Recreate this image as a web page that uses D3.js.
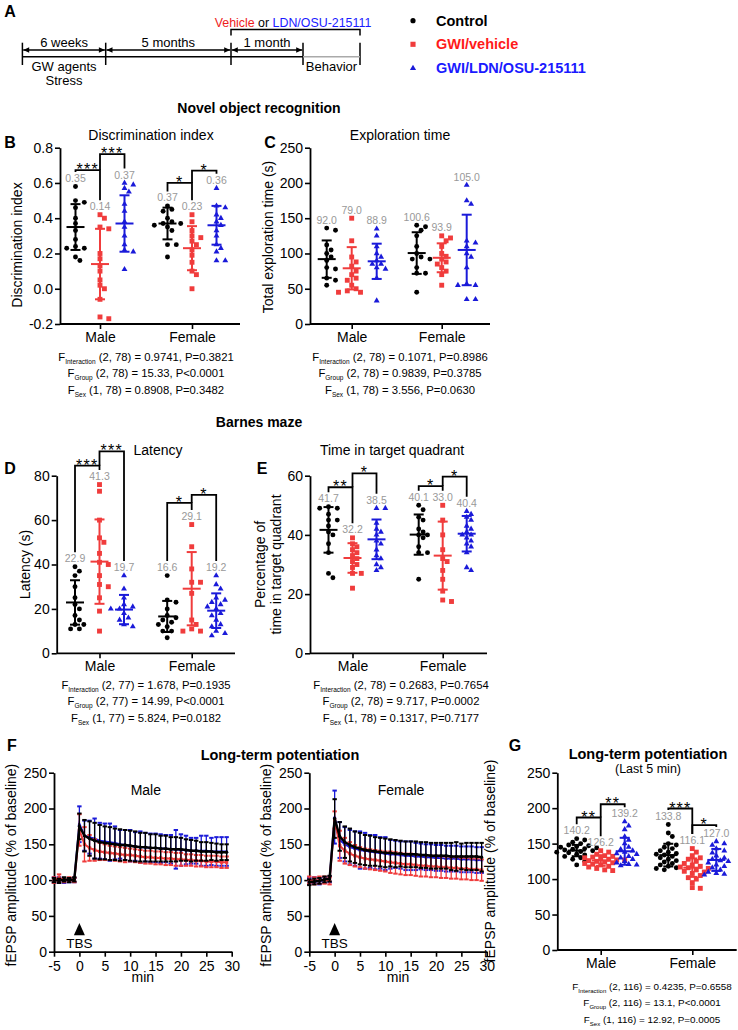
<!DOCTYPE html>
<html><head><meta charset="utf-8">
<script src="https://cdn.jsdelivr.net/npm/d3@7"></script>
<style>
body{margin:0;background:#fff}
svg{display:block}
text{font-family:"Liberation Sans",Arial,Helvetica,sans-serif}
</style>
</head><body>
<svg id="fig" width="738" height="1030"></svg>
<script>
// ================= DATA =================
const sexes = ["Male", "Female"];
const groups = ["Control", "GWI/vehicle", "GWI/LDN/OSU-215111"];

// B: Discrimination index
const discMale = [
  [0.58,0.50,0.49,0.46,0.40,0.37,0.33,0.28,0.24,0.23,0.23,0.18,0.16],
  [0.42,0.40,0.35,0.34,0.20,0.17,0.13,0.10,0.05,0.02,0.00,-0.06,-0.16,-0.17],
  [0.60,0.59,0.57,0.55,0.48,0.44,0.38,0.35,0.30,0.25,0.22,0.21,0.11]];
const discFemale = [
  [0.47,0.45,0.44,0.40,0.38,0.37,0.37,0.36,0.35,0.33,0.25,0.25,0.18],
  [0.42,0.38,0.33,0.30,0.29,0.27,0.25,0.22,0.19,0.15,0.10,0.08,0.00],
  [0.57,0.47,0.46,0.42,0.40,0.38,0.36,0.33,0.30,0.25,0.23,0.21,0.16,0.16]];
const discMeans = [[0.35,0.14,0.37],[0.37,0.23,0.36]];
const discSD = [[0.13,0.20,0.16],[0.09,0.125,0.11]];
const discTicks = [-0.2,0,0.2,0.4,0.6,0.8];
const discSig = [["***","***"],["*","*"]];

// C: Exploration time
const explMale = [
  [136,133,112,105,100,95,90,80,78,65,62,55],
  [150,118,95,88,82,75,70,65,62,55,50,47,45,45],
  [135,125,110,100,95,90,85,85,80,78,65,33]];
const explFemale = [
  [140,138,133,125,110,100,95,92,92,80,72,72,45],
  [125,122,118,110,100,96,92,88,85,80,75,70,55],
  [197,175,170,118,115,110,100,95,80,57,55,55,35,35]];
const explMeans = [[92.0,79.0,88.9],[100.6,93.9,105.0]];
const explSD = [[26.5,30,25],[29.5,20.5,50]];
const explTicks = [0,50,100,150,200,250];

// D: Latency
const latMale = [
  [39,37,35,30,25,22,20,17,15,13,13,11,11],
  [76,73,60,52,50,45,41,40,35,31,30,25,19,10],
  [35,29,25,22,21,20,20,18,16,15,13,12]];
const latFemale = [
  [35,24,23,20,17,16,15,14,13,12,10,10,7],
  [58,48,38,32,32,27,15,13,11,10,10],
  [35,31,29,25,24,23,22,21,20,18,17,15,13,12,10,9,8]];
const latMeans = [[22.9,41.3,19.7],[16.6,29.1,19.2]];
const latSD = [[10,19,6.6],[7,16.5,7.8]];
const latTicks = [0,20,40,60,80];
const latSig = [["***","***"],["*","*"]];

// E: Time in target quadrant
const tqMale = [
  [49.5,49,49,47,45,45,43,41,40,37,34,27,25.5],
  [39,37,36,35,34,33,32,31,30,29,27,27,22],
  [49,49,44,42,41,40,38,37,35,33,32,30,29,28]];
const tqFemale = [
  [50,48.5,46,45,42,41,40,40,39,36,34,34,25],
  [50,45,40,35,32,31,28,25,21,18,17.5],
  [48,47,46,45,43,42,41,40,40,39,38,37,36,34,29,28]];
const tqMeans = [[41.7,32.2,38.5],[40.1,33.0,40.4]];
const tqSD = [[7.7,5,6.7],[6.8,11.5,6]];
const tqTicks = [0,20,40,60];
const tqSig = [["**","*"],["*","*"]];

// F: LTP time course
const ltpTime = [-5,-4,-3,-2,-1,0,1,2,3,4,5,6,7,8,9,10,11,12,13,14,15,16,17,18,19,20,21,22,23,24,25,26,27,28,29];
const ltpMaleCtrl = [100,99,101,100,101,175,162,158,155,153,152,151,150,149,149,148,147,146,146,145,145,144,144,143,143,143,142,141,141,140,140,140,139,139,139];
const ltpMaleCtrlErr = [3,3,3,3,3,18,22,24,25,24,23,23,22,22,21,21,21,20,20,19,19,18,18,17,17,16,15,15,14,13,13,12,12,11,11];
const ltpMaleVeh = [100,103,100,101,100,170,150,145,142,140,139,138,137,136,135,135,134,133,132,132,131,131,130,130,129,129,128,128,127,127,126,126,126,125,125];
const ltpMaleVehErr = [4,5,3,3,3,22,24,18,15,12,11,10,10,10,10,9,9,9,9,9,9,9,9,9,9,9,8,8,8,8,8,8,8,8,8];
const ltpMaleLdn = [100,100,99,100,100,178,162,160,158,155,154,153,152,150,149,148,147,146,146,145,145,144,144,143,143,142,142,141,141,141,141,140,140,140,140];
const ltpMaleLdnErr = [4,4,3,3,3,25,21,23,28,25,25,26,23,20,21,22,20,22,20,20,20,20,19,20,27,22,20,18,18,21,21,19,20,20,20];
const ltpFemCtrl = [97,98,99,101,102,186,161,153,149,146,144,142,141,140,139,138,138,137,137,136,136,136,135,135,134,134,134,134,133,133,133,133,133,133,132];
const ltpFemCtrlErr = [4,4,4,4,4,27,20,22,23,22,22,21,21,20,20,20,19,19,18,18,18,18,18,18,18,18,18,18,19,20,18,19,19,19,20];
const ltpFemVeh = [100,99,100,100,99,184,148,141,137,134,132,130,129,128,127,126,125,124,123,122,122,121,120,120,119,119,118,118,117,117,116,116,115,115,114];
const ltpFemVehErr = [5,5,5,5,5,12,21,18,16,15,14,14,14,14,14,14,15,15,15,15,15,15,15,15,15,15,15,15,15,15,15,15,15,15,15];
const ltpFemLdn = [99,100,98,100,101,188,156,150,146,144,142,141,140,139,138,137,136,136,135,134,134,133,133,132,132,131,131,130,130,130,129,129,129,128,128];
const ltpFemLdnErr = [4,4,4,4,4,37,25,24,24,24,26,25,23,24,22,23,20,19,19,20,20,19,18,18,18,18,18,18,18,18,18,18,18,18,18];
const ltpXTicks = [-5,0,5,10,15,20,25,30];
const ltpYTicks = [0,50,100,150,200,250];

// G: LTP last 5 min
const last5Male = [
  [157,155,152,150,148,147,146,145,144,143,142,141,140,139,138,137,135,134,132,130,128,125,120],
  [140,138,135,133,132,131,130,129,128,127,127,126,125,124,123,122,121,120,118,117,115,113,112],
  [181,175,170,160,155,150,145,142,140,138,136,135,132,130,128,125,123,121,120,119]];
const last5Female = [
  [177,165,160,150,148,145,143,140,138,136,135,134,132,130,128,126,124,122,120,118,116,115,113],
  [143,138,133,130,128,125,122,120,118,117,116,115,113,111,110,108,105,102,100,95,88,87],
  [153,150,148,143,140,137,133,130,128,126,125,123,120,118,116,113,110,108,107,106]];
const last5Means = [[140.2,126.2,139.2],[133.8,116.1,127.0]];
const last5SD = [[8,7.5,19],[16,13,15.5]];
const last5Ticks = [0,50,100,150,200,250];
const last5Sig = [["**","**"],["***","*"]];

// Two-way ANOVA statistics
const statsB = [["Interaction","(2, 78) = 0.9741, P=0.3821"],["Group","(2, 78) = 15.33, P<0.0001"],["Sex","(1, 78) = 0.8908, P=0.3482"]];
const statsC = [["Interaction","(2, 78) = 0.1071, P=0.8986"],["Group","(2, 78) = 0.9839, P=0.3785"],["Sex","(1, 78) = 3.556, P=0.0630"]];
const statsD = [["Interaction","(2, 77) = 1.678, P=0.1935"],["Group","(2, 77) = 14.99, P<0.0001"],["Sex","(1, 77) = 5.824, P=0.0182"]];
const statsE = [["Interaction","(2, 78) = 0.2683, P=0.7654"],["Group","(2, 78) = 9.717, P=0.0002"],["Sex","(1, 78) = 0.1317, P=0.7177"]];
const statsG = [["Interaction","(2, 116) = 0.4235, P=0.6558"],["Group","(2, 116) = 13.1, P<0.0001"],["Sex","(1, 116) = 12.92, P=0.0005"]];

// Timeline (panel A)
const timelineSpans = ["6 weeks","5 months","1 month"];

// ================= DRAWING =================
const colors = ["#000000", "#f03c3c", "#1a1ad9"];
const svg = d3.select("#fig");
const symTypes = [d3.symbolCircle, d3.symbolSquare, d3.symbolTriangle];
const symSizes = [19, 24, 15];

function marker(g, gi, x, y, k = 1) {
  g.append("path")
    .attr("d", d3.symbol().type(symTypes[gi]).size(symSizes[gi] * k)())
    .attr("transform", `translate(${x},${y})`)
    .attr("fill", colors[gi]);
}

function styleAxis(ag, fs = 14) {
  ag.select(".domain").attr("stroke", "#000").attr("stroke-width", 1.8);
  ag.selectAll(".tick line").attr("stroke", "#000").attr("stroke-width", 1.6);
  ag.selectAll(".tick text").attr("fill", "#000").attr("font-size", fs)
    .attr("font-family", '"Liberation Sans",Arial,sans-serif');
}

function txt(g, x, y, s, o = {}) {
  const t = g.append("text").attr("x", x).attr("y", y).text(s)
    .attr("font-size", o.fs || 14).attr("text-anchor", o.anchor || "middle")
    .attr("fill", o.fill || "#000");
  if (o.bold) t.attr("font-weight", "bold");
  if (o.rot) t.attr("transform", `rotate(-90,${x},${y})`).attr("dy", "0.35em");
  return t;
}

function stats(g, cx, y0, rows, fs = 11.3, sub = 6.5) {
  rows.forEach((r, i) => {
    const t = g.append("text").attr("x", cx).attr("y", y0 + i * 16.3)
      .attr("text-anchor", "middle").attr("font-size", fs);
    t.append("tspan").text("F");
    t.append("tspan").attr("font-size", sub).attr("dy", 3).text(r[0]);
    t.append("tspan").attr("dy", -3).text(" " + r[1]);
  });
}

function swarm(vals, y, cx, step = 4.4, minD = 5.2) {
  const placed = [];
  vals.slice().sort((a, b) => b - a).forEach(v => {
    const py = y(v);
    let px = null;
    for (let k = 0; k < 12; k++) {
      const off = k === 0 ? 0 : (k % 2 ? Math.ceil(k / 2) : -k / 2);
      const cand = cx + off * step;
      if (placed.every(q => Math.hypot(q.x - cand, q.y - py) >= minD)) { px = cand; break; }
    }
    if (px === null) px = cx;
    placed.push({x: px, y: py});
  });
  return placed;
}

function scatterPanel(p) {
  const g = svg.append("g");
  const y = d3.scaleLinear().domain(p.domain).range([p.yBottom, p.yTop]);
  const xs = d3.scalePoint().domain(sexes).range(p.centers);
  const xg = d3.scalePoint().domain([0, 1, 2]).range([-p.spread, p.spread]);

  const ay = g.append("g").attr("transform", `translate(${p.x0},0)`)
    .call(d3.axisLeft(y).tickValues(p.ticks).tickFormat(p.fmt).tickSize(5).tickSizeOuter(0).tickPadding(2));
  styleAxis(ay);
  g.append("line").attr("x1", p.x0).attr("x2", p.x1).attr("y1", p.yBottom).attr("y2", p.yBottom)
    .attr("stroke", "#000").attr("stroke-width", 1.8);
  const ax = g.append("g").attr("transform", `translate(0,${p.yBottom})`)
    .call(d3.axisBottom(xs).tickSize(5).tickPadding(3));
  ax.select(".domain").remove();
  styleAxis(ax);

  [p.male, p.female].forEach((sexData, si) => {
    const labTop = [];
    sexData.forEach((vals, gi) => {
      const cx = xs(sexes[si]) + xg(gi);
      swarm(vals, y, cx, p.step || 4.4, p.minD || 5.2).forEach(pt => marker(g, gi, pt.x, pt.y));
      const m = p.means[si][gi], sd = p.sds[si][gi];
      const c = colors[gi];
      g.append("line").attr("x1", cx).attr("x2", cx).attr("y1", y(m - sd)).attr("y2", y(m + sd))
        .attr("stroke", c).attr("stroke-width", 2);
      [m - sd, m + sd].forEach(v => g.append("line").attr("x1", cx - 5).attr("x2", cx + 5)
        .attr("y1", y(v)).attr("y2", y(v)).attr("stroke", c).attr("stroke-width", 2));
      g.append("line").attr("x1", cx - 9).attr("x2", cx + 9).attr("y1", y(m)).attr("y2", y(m))
        .attr("stroke", c).attr("stroke-width", 2);
      const ly = y(d3.max(vals)) - 8;
      txt(g, cx, ly + 3.6, p.labFmt(m), {fs: 10.5, fill: "#999"});
      labTop.push({x: cx, y: ly - 6.5});
    });
    if (p.brackets) {
      p.brackets[si].forEach((b, bi) => {
        const [a, bb, barV, leftV] = b;
        const by = y(barV);
        const ly0 = leftV == null ? labTop[a].y : y(leftV);
        g.append("path")
          .attr("d", `M${labTop[a].x},${ly0}V${by}H${labTop[bb].x}V${labTop[bb].y}`)
          .attr("fill", "none").attr("stroke", "#000").attr("stroke-width", 1.8);
        txt(g, (labTop[a].x + labTop[bb].x) / 2, by + 5, p.sig[si][bi], {fs: 16})
          .attr("letter-spacing", 1.2);
      });
    }
  });

  if (p.title) txt(g, p.title[1], p.title[2], p.title[0]);
  p.ylab.forEach(l => txt(g, l[1], l[2], l[0], {rot: true}));
  txt(g, p.letter[1], p.letter[2], p.letter[0], {fs: 16, bold: true});
  stats(g, p.statsX, p.statsY, p.stats, p.statsFs, p.statsSub);
}

function ltpPanel(p) {
  const g = svg.append("g");
  const x = d3.scaleLinear().domain([-5, 30]).range([p.x0, p.x1]);
  const y = d3.scaleLinear().domain([0, 250]).range([p.yBottom, p.yTop]);
  const ay = g.append("g").attr("transform", `translate(${p.x0},0)`)
    .call(d3.axisLeft(y).tickValues(ltpYTicks).tickSize(5).tickSizeOuter(0).tickPadding(2));
  styleAxis(ay);
  const ax = g.append("g").attr("transform", `translate(0,${p.yBottom})`)
    .call(d3.axisBottom(x).tickValues(ltpXTicks).tickFormat(d => String(d)).tickSize(5).tickSizeOuter(0).tickPadding(4));
  styleAxis(ax);

  p.series.forEach(([mean, err, gi]) => {
    const c = colors[gi];
    const eg = g.append("g").attr("stroke", c).attr("stroke-width", 1.3);
    ltpTime.forEach((t, i) => {
      const xx = x(t), lo = y(mean[i] - err[i]), hi = y(mean[i] + err[i]);
      eg.append("line").attr("x1", xx).attr("x2", xx).attr("y1", lo).attr("y2", hi);
      eg.append("line").attr("x1", xx - 2.2).attr("x2", xx + 2.2).attr("y1", hi).attr("y2", hi).attr("stroke-width", 2);
      eg.append("line").attr("x1", xx - 2.2).attr("x2", xx + 2.2).attr("y1", lo).attr("y2", lo).attr("stroke-width", 2);
    });
    g.append("path").datum(mean)
      .attr("d", d3.line().x((d, i) => x(ltpTime[i])).y(d => y(d)))
      .attr("fill", "none").attr("stroke", c).attr("stroke-width", gi === 0 ? 2.4 : 2);
    mean.forEach((d, i) => marker(g, gi, x(ltpTime[i]), y(d), 0.45));
  });

  const tx = x(0);
  g.append("path").attr("d", `M${tx},${y(40)}L${tx + 5.5},${y(23)}L${tx - 5.5},${y(23)}Z`).attr("fill", "#000");
  txt(g, tx, y(5), "TBS", {fs: 13.5});
  txt(g, (p.x0 + p.x1) / 2 + 3, p.yTop + 22, p.sexTitle, {fs: 14});
  txt(g, (p.x0 + p.x1) / 2, p.yBottom + 30, "min", {fs: 14});
  txt(g, p.ylabX, (p.yTop + p.yBottom) / 2 + 3, "fEPSP amplitude (% of baseline)", {rot: true});
}

// ---------- Panel A ----------
(function () {
  const g = svg.append("g");
  const defs = svg.append("defs");
  defs.append("marker").attr("id", "arr").attr("viewBox", "0 0 10 10")
    .attr("refX", 10).attr("refY", 5).attr("markerUnits", "userSpaceOnUse")
    .attr("markerWidth", 7).attr("markerHeight", 6).attr("orient", "auto-start-reverse")
    .append("path").attr("d", "M0,0.5L10,5L0,9.5Z").attr("fill", "#000");
  txt(g, 10, 17, "A", {fs: 16, bold: true});
  const tl = [22.4, 105.7, 231, 303, 360];
  tl.forEach(xx => g.append("line").attr("x1", xx).attr("x2", xx).attr("y1", 42.7).attr("y2", 65)
    .attr("stroke", "#000").attr("stroke-width", 1.5));
  g.append("line").attr("x1", tl[0]).attr("x2", tl[3]).attr("y1", 56.7).attr("y2", 56.7)
    .attr("stroke", "#000").attr("stroke-width", 1.5);
  g.append("line").attr("x1", tl[3]).attr("x2", tl[4]).attr("y1", 56.7).attr("y2", 56.7)
    .attr("stroke", "#aaa").attr("stroke-width", 1.5);
  for (let i = 0; i < 3; i++) {
    g.append("line").attr("x1", tl[i] + 0.8).attr("x2", tl[i + 1] - 0.8).attr("y1", 50).attr("y2", 50)
      .attr("stroke", "#000").attr("stroke-width", 1.4)
      .attr("marker-start", "url(#arr)").attr("marker-end", "url(#arr)");
    txt(g, (tl[i] + tl[i + 1]) / 2, 47.3, timelineSpans[i], {fs: 13});
  }
  g.append("path").attr("d", `M${tl[2]},35.5V29.5H${tl[4]}V35.5`).attr("fill", "none")
    .attr("stroke", "#000").attr("stroke-width", 1.5);
  txt(g, 64, 71, "GW agents", {fs: 13});
  txt(g, 64, 84.5, "Stress", {fs: 13});
  txt(g, 331.5, 71, "Behavior", {fs: 13});
  const vt = g.append("text").attr("x", 293).attr("y", 27).attr("text-anchor", "middle").attr("font-size", 12.4);
  vt.append("tspan").attr("fill", "#ee1c1c").text("Vehicle");
  vt.append("tspan").attr("fill", "#000").text(" or ");
  vt.append("tspan").attr("fill", "#1a1aff").text("LDN/OSU-215111");
  const legColors = ["#000", "#ff1a1a", "#1a1aff"];
  [20.7, 44.3, 68.3].forEach((ly, gi) => {
    marker(g, gi, 413, ly, 1.1);
    txt(g, 436, ly + 5, groups[gi], {fs: 14.5, bold: true, anchor: "start", fill: legColors[gi]});
  });
})();

// section titles
txt(svg, 259, 113, "Novel object recognition", {fs: 14, bold: true});
txt(svg, 259, 426.5, "Barnes maze", {fs: 14, bold: true});
txt(svg, 280, 760, "Long-term potentiation", {fs: 14.5, bold: true});

// ---------- Panel B ----------
scatterPanel({
  x0: 60, x1: 240, yTop: 147.7, yBottom: 324, domain: [-0.2, 0.8], ticks: discTicks,
  fmt: d => d.toFixed(1), labFmt: d => d.toFixed(2),
  centers: [100, 192], spread: 24.5,
  male: discMale, female: discFemale, means: discMeans, sds: discSD,
  brackets: [[[0, 1, 0.673, null], [1, 2, 0.764, 0.673]], [[0, 1, 0.600, null], [1, 2, 0.670, 0.600]]],
  sig: discSig,
  title: ["Discrimination index", 151, 140], ylab: [["Discrimination index", 17, 245]],
  letter: ["B", 10, 147.5], stats: statsB, statsX: 146, statsY: 361
});

// ---------- Panel C ----------
scatterPanel({
  x0: 310, x1: 490, yTop: 147.7, yBottom: 324, domain: [0, 250], ticks: explTicks,
  fmt: d => String(d), labFmt: d => d.toFixed(1),
  centers: [351.7, 441.7], spread: 25,
  male: explMale, female: explFemale, means: explMeans, sds: explSD,
  title: ["Exploration time", 400, 140], ylab: [["Total exploration time (s)", 268, 237]],
  letter: ["C", 270, 147.5], stats: statsC, statsX: 400, statsY: 361
});

// ---------- Panel D ----------
scatterPanel({
  x0: 56.7, x1: 235, yTop: 475.7, yBottom: 653.3, domain: [0, 80], ticks: latTicks,
  fmt: d => String(d), labFmt: d => d.toFixed(1),
  centers: [99.5, 191.7], spread: 24.5,
  male: latMale, female: latFemale, means: latMeans, sds: latSD,
  brackets: [[[0, 1, 84.5, null], [1, 2, 91.0, 84.5]], [[0, 1, 67.8, null], [1, 2, 71.4, 67.8]]],
  sig: latSig,
  title: ["Latency", 158, 455], ylab: [["Latency (s)", 25, 564.5]],
  letter: ["D", 10, 473.5], stats: statsD, statsX: 146, statsY: 689
});

// ---------- Panel E ----------
scatterPanel({
  x0: 310, x1: 487, yTop: 475.7, yBottom: 653.3, domain: [0, 60], ticks: tqTicks,
  fmt: d => String(d), labFmt: d => d.toFixed(1),
  centers: [352.5, 442.7], spread: 24,
  male: tqMale, female: tqFemale, means: tqMeans, sds: tqSD,
  brackets: [[[0, 1, 56.1, null], [1, 2, 60.8, 56.1]], [[0, 1, 56.5, null], [1, 2, 59.7, 56.5]]],
  sig: tqSig,
  title: ["Time in target quadrant", 392, 455],
  ylab: [["Percentage of", 260, 564.5], ["time in target quadrant", 276, 564.5]],
  letter: ["E", 262, 473.5], stats: statsE, statsX: 401, statsY: 689
});

// ---------- Panel F ----------
ltpPanel({x0: 54, x1: 231.7, yTop: 772.7, yBottom: 951.7, sexTitle: "Male", ylabX: 11,
  series: [[ltpMaleLdn, ltpMaleLdnErr, 2], [ltpMaleVeh, ltpMaleVehErr, 1], [ltpMaleCtrl, ltpMaleCtrlErr, 0]]});
ltpPanel({x0: 309.3, x1: 486.7, yTop: 772.7, yBottom: 951.7, sexTitle: "Female", ylabX: 266,
  series: [[ltpFemLdn, ltpFemLdnErr, 2], [ltpFemVeh, ltpFemVehErr, 1], [ltpFemCtrl, ltpFemCtrlErr, 0]]});
txt(svg, 12, 750.5, "F", {fs: 16, bold: true});

// ---------- Panel G ----------
scatterPanel({
  x0: 557.3, x1: 736.7, yTop: 772.7, yBottom: 950, domain: [0, 250], ticks: last5Ticks,
  fmt: d => String(d), labFmt: d => d.toFixed(1),
  centers: [600.7, 692.3], spread: 24, step: 4, minD: 4.6,
  male: last5Male, female: last5Female, means: last5Means, sds: last5SD,
  brackets: [[[0, 1, 186.8, null], [1, 2, 205.5, 186.8]], [[0, 1, 199.5, null], [1, 2, 176.0, null]]],
  sig: last5Sig,
  title: null, ylab: [["fEPSP amplitude (% of baseline)", 490, 861]],
  letter: ["G", 515, 750.5], stats: statsG, statsX: 652, statsY: 990, statsFs: 9.9, statsSub: 6
});
txt(svg, 648, 758.5, "Long-term potentiation", {fs: 14.5, bold: true});
txt(svg, 648, 772.8, "(Last 5 min)", {fs: 12.5});
</script>
</body></html>
